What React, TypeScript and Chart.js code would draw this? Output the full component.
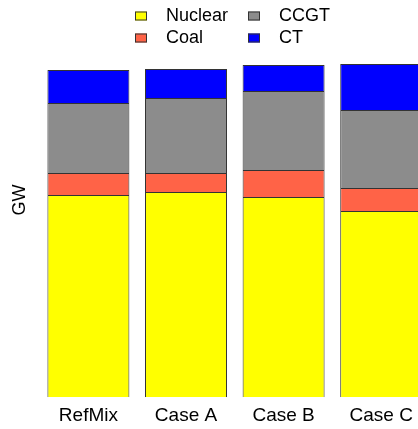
import React, { useEffect, useRef } from "react";
import { Chart, registerables } from "chart.js";

Chart.register(...registerables);

const categories = ["RefMix", "Case A", "Case B", "Case C"];
const nuclear = [202, 205, 200, 186];
const coal = [22, 19, 27, 23];
const ccgt = [70, 75, 79, 78];
const ct = [33, 29, 26, 46];
const seriesNames = ["Nuclear", "Coal", "CCGT", "CT"];
const seriesColors = ["#FFFF00", "#FF6347", "#8C8C8C", "#0000FF"];
const yAxisTitle = "GW";

const FONT = "'Liberation Sans', Arial, sans-serif";

const gridLegend = {
  id: "gridLegend",
  afterDraw(chart: any) {
    const ctx = chart.ctx;
    const ds = chart.data.datasets;
    const colBoxX = [135, 248];
    const colTextX = [166, 279];
    const rowY = [16, 38];
    ctx.save();
    ctx.font = `18px ${FONT}`;
    ctx.textBaseline = "middle";
    ctx.textAlign = "left";
    ds.forEach((d: any, i: number) => {
      const col = Math.floor(i / 2);
      const row = i % 2;
      const bx = colBoxX[col];
      const by = rowY[row] - 4.5;
      ctx.fillStyle = d.backgroundColor;
      ctx.fillRect(bx, by, 12, 9);
      ctx.strokeStyle = "#333";
      ctx.lineWidth = 1;
      ctx.strokeRect(bx + 0.5, by + 0.5, 11, 8);
      ctx.fillStyle = "#000";
      ctx.fillText(d.label, colTextX[col], rowY[row]);
    });
    ctx.restore();
  },
};

export default function App() {
  const ref = useRef<HTMLCanvasElement>(null);
  useEffect(() => {
    if (!ref.current) return;
    const values = [nuclear, coal, ccgt, ct];
    const chart = new Chart(ref.current, {
      type: "bar",
      data: {
        labels: categories,
        datasets: seriesNames.map((name, i) => ({
          label: name,
          data: values[i],
          backgroundColor: seriesColors[i],
          borderColor: "#333333",
          borderWidth: 1,
          barPercentage: 0.84,
          categoryPercentage: 1,
        })),
      },
      options: {
        responsive: false,
        animation: false,
        layout: { padding: { left: 0, top: 3, right: 10, bottom: -5 } },
        plugins: { legend: { display: false }, tooltip: { enabled: false } },
        scales: {
          x: {
            stacked: true,
            grid: { display: false, drawTicks: false },
            border: { display: false },
            ticks: { color: "#000", font: { family: FONT, size: 19 }, padding: 7 },
          },
          y: {
            stacked: true,
            min: 0,
            max: 394,
            grid: { display: false, drawTicks: false },
            border: { display: false },
            ticks: { display: false },
            title: {
              display: true,
              text: yAxisTitle,
              color: "#000",
              font: { family: FONT, size: 18 },
              padding: { top: 9, bottom: 9 },
            },
          },
        },
      },
      plugins: [gridLegend],
    });
    return () => chart.destroy();
  }, []);
  return (
    <div
      style={{
        position: "fixed",
        left: 0,
        top: 0,
        width: 418,
        height: 429,
        overflow: "hidden",
        background: "#fff",
      }}
    >
      <canvas ref={ref} width={440} height={429} style={{ display: "block" }} />
    </div>
  );
}
